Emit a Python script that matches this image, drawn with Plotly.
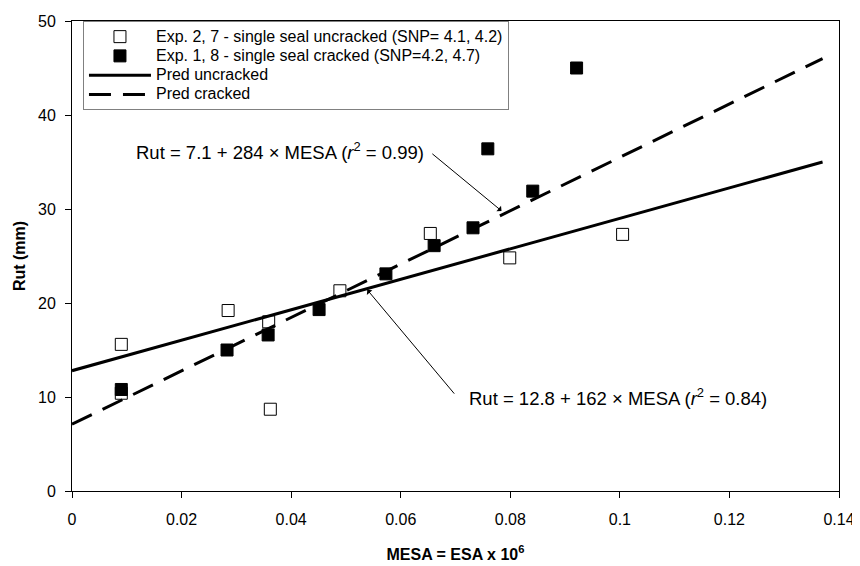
import plotly.graph_objects as go

# Data
uncracked_x = [0.009, 0.009, 0.0285, 0.0359, 0.0362, 0.0489, 0.0654, 0.0799, 0.1005]
uncracked_y = [15.6, 10.4, 19.2, 18.0, 8.7, 21.3, 27.4, 24.8, 27.3]

cracked_x = [0.009, 0.0283, 0.0358, 0.0451, 0.0573, 0.0661, 0.0732, 0.0759, 0.0841, 0.0921]
cracked_y = [10.8, 15.0, 16.6, 19.3, 23.1, 26.1, 28.0, 36.4, 31.9, 45.0]

pred_x = [0.0, 0.137]
pred_uncracked_y = [12.8, 35.0]
pred_cracked_y = [7.1, 46.0]

series_names = [
    "Exp. 2, 7 - single seal uncracked (SNP= 4.1, 4.2)",
    "Exp. 1, 8 - single seal cracked (SNP=4.2, 4.7)",
    "Pred uncracked",
    "Pred cracked",
]

FONT = "Liberation Sans, Arial, sans-serif"


def leg(name):
    # legend rows are spaced by a small base font; the text itself is drawn at 16px
    return "<span style='font-size:16px'>" + name + "</span>"


fig = go.Figure()
fig.add_trace(go.Scatter(
    x=uncracked_x, y=uncracked_y, mode="markers", name=leg(series_names[0]),
    marker=dict(symbol="square", size=12, color="white", line=dict(color="black", width=1)),
))
fig.add_trace(go.Scatter(
    x=cracked_x, y=cracked_y, mode="markers", name=leg(series_names[1]),
    marker=dict(symbol="square", size=12, color="black", line=dict(color="black", width=1)),
))
fig.add_trace(go.Scatter(
    x=pred_x, y=pred_uncracked_y, mode="lines", name=leg(series_names[2]),
    line=dict(color="black", width=3),
))
fig.add_trace(go.Scatter(
    x=pred_x, y=pred_cracked_y, mode="lines", name=leg(series_names[3]),
    line=dict(color="black", width=3, dash="22px,12px"),
))

ann_font = dict(family=FONT, size=18.5, color="black")
annotations = [
    dict(x=0.0646, y=36.2, xref="x", yref="y", showarrow=False, xanchor="right", yanchor="middle",
         text="Rut = 7.1 + 284 × MESA (<i>r</i><sup>2</sup> = 0.99)", font=ann_font),
    dict(x=0.0721, y=10.0, xref="x", yref="y", showarrow=False, xanchor="left", yanchor="middle",
         text="Rut = 12.8 + 162 × MESA (<i>r</i><sup>2</sup> = 0.84)", font=ann_font),
    dict(x=0.0784, y=29.8, ax=0.0655, ay=36.0, xref="x", yref="y", axref="x", ayref="y",
         text="", showarrow=True, arrowhead=1, arrowsize=1.2, arrowwidth=1, arrowcolor="black"),
    dict(x=0.0539, y=21.4, ax=0.0700, ay=10.2, xref="x", yref="y", axref="x", ayref="y",
         text="", showarrow=True, arrowhead=1, arrowsize=1.2, arrowwidth=1, arrowcolor="black"),
]

# The page body has a default 8px margin, so the figure is made 8px smaller
# and its left/top margins reduced by 8px to land on the reference's frame.
fig.update_layout(
    width=852, height=558,
    margin=dict(l=64, r=19, t=5, b=75),
    paper_bgcolor="white", plot_bgcolor="white",
    font=dict(family=FONT, size=16, color="black"),
    showlegend=True,
    legend=dict(
        x=0.0143, y=1.0, xanchor="left", yanchor="top",
        bgcolor="white", bordercolor="#808080", borderwidth=1,
        font=dict(family=FONT, size=12.5, color="black"),
        itemwidth=62, tracegroupgap=0,
    ),
    annotations=annotations,
    xaxis=dict(
        range=[0, 0.14], dtick=0.02, tick0=0,
        showgrid=False, zeroline=False,
        showline=True, linecolor="black", linewidth=1, mirror=True,
        ticks="outside", ticklen=6, tickcolor="black",
        tickfont=dict(family=FONT, size=16), ticklabelstandoff=8,
        ticklabeloverflow="allow",
        title=dict(text="<b>MESA = ESA x 10<sup>6</sup></b>", font=dict(family=FONT, size=16), standoff=21),
    ),
    yaxis=dict(
        range=[0, 50], dtick=10, tick0=0,
        showgrid=False, zeroline=False,
        showline=True, linecolor="black", linewidth=1, mirror=True,
        ticks="outside", ticklen=6, tickcolor="black",
        tickfont=dict(family=FONT, size=16), ticklabelstandoff=6,
        ticklabeloverflow="allow",
        title=dict(text="<b>Rut (mm)</b>", font=dict(family=FONT, size=16), standoff=8),
    ),
)

fig.write_html("out.html")
